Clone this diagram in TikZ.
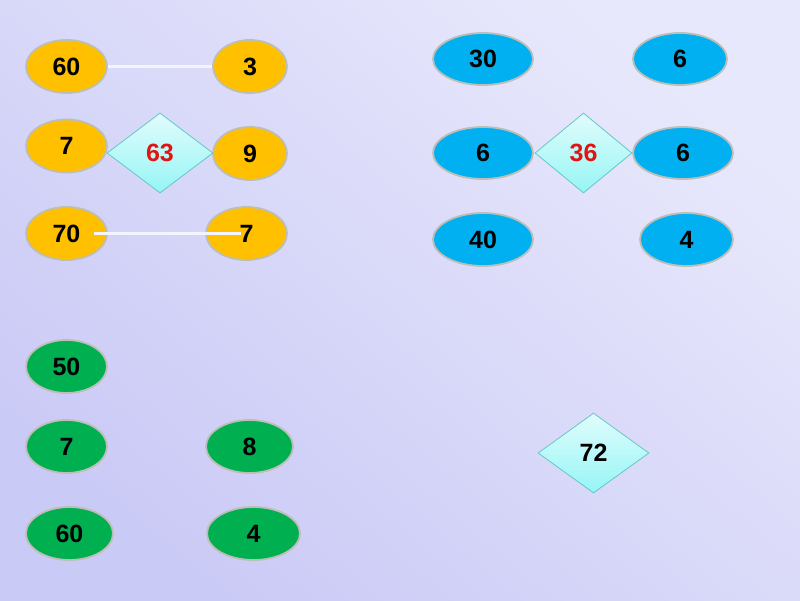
\documentclass[tikz,border=0pt]{standalone}
\usepackage{fontspec}
\setmainfont{Liberation Sans}
\usetikzlibrary{shapes.geometric}
\definecolor{bgA}{RGB}{232,232,252}
\definecolor{bgB}{RGB}{202,202,246}
\definecolor{ora}{RGB}{255,192,0}
\definecolor{blu}{RGB}{0,176,240}
\definecolor{grn}{RGB}{0,176,80}
\definecolor{rim}{RGB}{190,190,185}
\definecolor{dtop}{RGB}{225,252,252}
\definecolor{dbot}{RGB}{150,245,245}
\definecolor{drim}{RGB}{100,200,200}
\definecolor{numred}{RGB}{225,20,20}
\definecolor{lnk}{RGB}{244,244,255}
\tikzset{
  num/.style={font=\fontsize{25}{30}\selectfont\bfseries, text=black},
  oval/.style={num, ellipse, draw=rim, line width=1.8pt, inner sep=0pt, minimum height=53pt},
  ovo/.style={oval, fill=ora},
  ovb/.style={oval, fill=blu},
  ovg/.style={oval, fill=grn},
  gem/.style={num, diamond, draw=drim, line width=0.8pt, inner sep=0pt, aspect=1.3,
    minimum height=80pt, top color=dtop, bottom color=dbot},
  link/.style={draw=lnk, line width=2.2pt}
}
\begin{document}
\begin{tikzpicture}[x=1pt,y=-1pt]
\useasboundingbox (0,0) rectangle (800,600);
\shade[shading=axis, top color=bgA, bottom color=bgB, shading angle=-40] (0,0) rectangle (800,600);
% orange group
\node[ovo, minimum width=81pt] (a60) at (66.5,66.5) {60};
\node[ovo, minimum width=74pt] (a3) at (250,66.5) {3};
\node[ovo, minimum width=81pt] (a7) at (66.5,146) {7};
\node[ovo, minimum width=74pt] (a9) at (250,153.5) {9};
\node[gem, minimum width=106pt, text=numred] (d63) at (160,153) {63};
\node[ovo, minimum width=81pt] (a70) at (66.5,233.5) {70};
\node[ovo, minimum width=81pt] (b7) at (246.5,233.5) {7};
\draw[link] (a60) -- (a3);
\draw[link, shorten <=27pt, shorten >=6pt] (a70.center) -- (b7.center);
% blue group
\node[ovb, minimum width=100pt, minimum height=52pt] (c30) at (483,59) {30};
\node[ovb, minimum width=94pt, minimum height=52pt] (c6a) at (680,59) {6};
\node[ovb, minimum width=100pt, minimum height=52pt] (c6b) at (483,153) {6};
\node[gem, minimum width=97pt, text=numred] (d36) at (583.5,153) {36};
\node[ovb, minimum width=100pt, minimum height=52pt] (c6c) at (683,153) {6};
\node[ovb, minimum width=100pt] (c40) at (483,239.5) {40};
\node[ovb, minimum width=93pt] (c4) at (686.5,239.5) {4};
% green group
\node[ovg, minimum width=81pt] (g50) at (66.5,366.5) {50};
\node[ovg, minimum width=81pt] (g7) at (66.5,446.5) {7};
\node[ovg, minimum width=87pt] (g8) at (249.5,446.5) {8};
\node[ovg, minimum width=87pt] (g60) at (69.5,533.5) {60};
\node[ovg, minimum width=93pt] (g4) at (253.5,533.5) {4};
% lone diamond
\node[gem, minimum width=111pt] (d72) at (593.5,453) {72};
\end{tikzpicture}
\end{document}
